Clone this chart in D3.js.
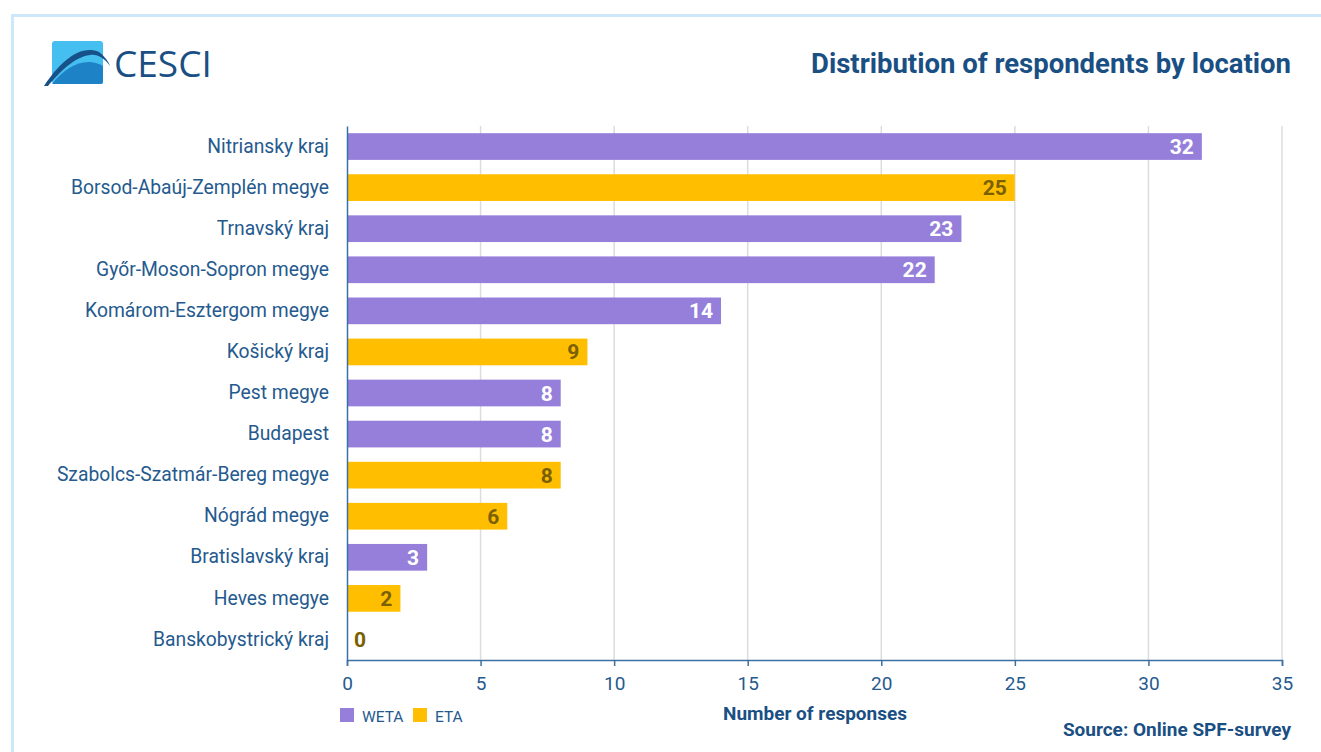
<!DOCTYPE html>
<html>
<head>
<meta charset="utf-8">
<script src="https://cdn.jsdelivr.net/npm/d3@7"></script>
<style>
  html, body { margin: 0; padding: 0; background: #fff; }
  svg { display: block; font-family: Roboto, "Noto Sans", sans-serif; }
</style>
</head>
<body>
<svg id="chart" width="1321" height="752"></svg>
<script>
const categories = [
  "Nitriansky kraj", "Borsod-Abaúj-Zemplén megye", "Trnavský kraj",
  "Győr-Moson-Sopron megye", "Komárom-Esztergom megye", "Košický kraj",
  "Pest megye", "Budapest", "Szabolcs-Szatmár-Bereg megye", "Nógrád megye",
  "Bratislavský kraj", "Heves megye", "Banskobystrický kraj"
];
const values = [32, 25, 23, 22, 14, 9, 8, 8, 8, 6, 3, 2, 0];
const groups = ["WETA", "ETA", "WETA", "WETA", "WETA", "ETA", "WETA", "WETA", "ETA", "ETA", "WETA", "ETA", "ETA"];
const legendGroups = ["WETA", "ETA"];
const xTicks = [0, 5, 10, 15, 20, 25, 30, 35];
const title = "Distribution of respondents by location";
const xTitle = "Number of responses";
const source = "Source: Online SPF-survey";

const colors = { WETA: "#957fdb", ETA: "#ffbf00" };
const labelColors = { WETA: "#ffffff", ETA: "#7a6000" };
const textBlue = "#255a8e";
const darkBlue = "#1a4f84";

const svg = d3.select("#chart");

// frame
svg.append("rect").attr("x", 12.5).attr("y", 15.5).attr("width", 1400).attr("height", 800)
  .attr("fill", "none").attr("stroke", "#cde8f8").attr("stroke-width", 3);

// logo
const logo = svg.append("g");
logo.append("rect").attr("x", 52).attr("y", 41).attr("width", 51).attr("height", 43).attr("rx", 3).attr("fill", "#45bff0");
logo.append("path").attr("d", "M52,84 C66,66 86,56 103,66 L103,82 Q103,84 101,84 Z").attr("fill", "#1e82c6");
logo.append("path").attr("d", "M44,86 C60,62 80,44 99,52 C103,55 108,60 110,66 C104,58 98,54 90,55 C74,57 60,72 48,86 Z").attr("fill", "#17518a");
logo.append("text").attr("x", 114).attr("y", 77).attr("font-size", 37).attr("fill", darkBlue)
  .attr("font-family", "'Open Sans', Roboto, sans-serif").text("CESCI");

// title
svg.append("text").attr("x", 1291).attr("y", 73).attr("text-anchor", "end")
  .attr("font-size", 27.5).attr("font-weight", 700).attr("fill", darkBlue).text(title);

const plotLeft = 347, plotRight = 1282, plotTop = 126, plotBottom = 660;
const x = d3.scaleLinear().domain([0, 35]).range([plotLeft, plotRight]);
const y = d3.scaleBand().domain(categories).range([plotTop, plotBottom]).paddingInner(0.35).paddingOuter(0.175);

// gridlines
svg.append("g").selectAll("line").data(xTicks.slice(1)).join("line")
  .attr("x1", d => x(d)).attr("x2", d => x(d)).attr("y1", plotTop).attr("y2", plotBottom)
  .attr("stroke", "#dcdcdc").attr("stroke-width", 1.5);

// bars
svg.append("g").selectAll("rect").data(categories).join("rect")
  .attr("x", x(0)).attr("y", d => y(d))
  .attr("width", (d, i) => x(values[i]) - x(0)).attr("height", y.bandwidth())
  .attr("fill", (d, i) => colors[groups[i]]);

// value labels
svg.append("g").selectAll("text").data(categories).join("text")
  .attr("x", (d, i) => values[i] === 0 ? x(0) + 7 : x(values[i]) - 8)
  .attr("text-anchor", (d, i) => values[i] === 0 ? "start" : "end")
  .attr("y", d => y(d) + y.bandwidth() / 2).attr("dy", "0.36em")
  .attr("font-size", 21).attr("font-weight", 700)
  .attr("fill", (d, i) => values[i] === 0 ? labelColors.ETA : labelColors[groups[i]])
  .text((d, i) => values[i]);

// x axis
const xAxis = svg.append("g").attr("transform", `translate(0,${plotBottom})`)
  .call(d3.axisBottom(x).tickValues(xTicks).tickSize(6).tickPadding(11));
xAxis.select(".domain").attr("stroke", "#3d6fa3").attr("stroke-width", 1.5);
xAxis.selectAll(".tick line").attr("stroke", "#3d6fa3").attr("stroke-width", 1.5);
xAxis.selectAll(".tick text").attr("font-size", 19).attr("fill", textBlue).attr("font-family", "Roboto, sans-serif");

// y axis
const yAxis = svg.append("g").attr("transform", `translate(${plotLeft},0)`)
  .call(d3.axisLeft(y).tickSize(0).tickPadding(18));
yAxis.select(".domain").attr("stroke", "#3d6fa3").attr("stroke-width", 1.5);
yAxis.selectAll(".tick text").attr("font-size", 19.3).attr("fill", textBlue).attr("font-family", "Roboto, sans-serif");

// x title
svg.append("text").attr("x", 815).attr("y", 720).attr("text-anchor", "middle")
  .attr("font-size", 19).attr("font-weight", 700).attr("fill", darkBlue).text(xTitle);

// legend
const lg = svg.append("g").selectAll("g").data(legendGroups).join("g")
  .attr("transform", (d, i) => `translate(${340 + i * 73},708)`);
lg.append("rect").attr("width", 14).attr("height", 14).attr("fill", d => colors[d]);
lg.append("text").attr("x", 22).attr("y", 8).attr("dy", "0.36em")
  .attr("font-size", 15.5).attr("fill", textBlue).text(d => d);

// source
svg.append("text").attr("x", 1291).attr("y", 736).attr("text-anchor", "end")
  .attr("font-size", 19).attr("font-weight", 700).attr("fill", darkBlue).text(source);
</script>
</body>
</html>
